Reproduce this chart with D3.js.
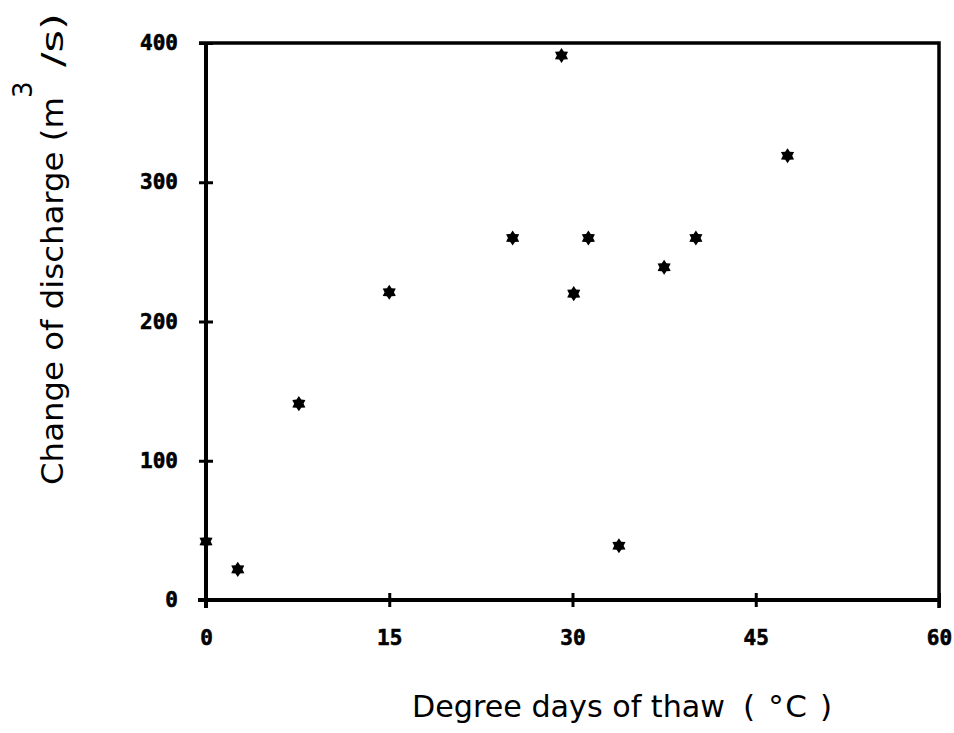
<!DOCTYPE html>
<html>
<head>
<meta charset="utf-8">
<script src="https://cdn.jsdelivr.net/npm/d3@7"></script>
<style>
  body { margin: 0; background: #fff; }
  svg { display: block; }
</style>
</head>
<body>
<svg id="chart" width="954" height="733"></svg>
<script>
// values
var thawDays = [0, 2.6, 7.6, 15, 25.1, 29.1, 30.1, 31.3, 33.8, 37.5, 40.1, 47.6]
var discharge = [42, 22, 141, 221, 260, 391, 220, 260, 39, 239, 260, 319]
var xTicks = [0, 15, 30, 45, 60]
var yTicks = [0, 100, 200, 300, 400]

var width = 954, height = 733;
var margin = {top: 43, right: 15, bottom: 133, left: 206};

const svg = d3.select("#chart");

const x = d3.scaleLinear()
  .domain([0, 60])
  .range([margin.left, width - margin.right]);

const y = d3.scaleLinear()
  .domain([0, 400])
  .range([height - margin.bottom, margin.top]);

// frame: top and right borders
svg.append("path")
  .attr("d", `M${x(0) - 7},${y(400)} H${x(60)} V${y(0) + 8}`)
  .attr("fill", "none")
  .attr("stroke", "black")
  .attr("stroke-width", 3.5);

// left axis, ticks cross the line
const yAxis = svg.append("g")
  .attr("transform", `translate(${x(0)},0)`)
  .call(d3.axisLeft(y).tickValues(yTicks).tickSize(7).tickPadding(21).tickFormat(d3.format("d")));
yAxis.select(".domain").attr("stroke-width", 4).attr("d", `M0,${y(400)}V${y(0) + 8}`);
yAxis.selectAll(".tick line").attr("x1", 7).attr("stroke-width", 3);

// bottom axis
const xAxis = svg.append("g")
  .attr("transform", `translate(0,${y(0)})`)
  .call(d3.axisBottom(x).tickValues(xTicks).tickSize(7).tickPadding(23).tickFormat(d3.format("d")));
xAxis.select(".domain").attr("stroke-width", 4).attr("d", `M${x(0) - 8},0H${x(60)}`);
xAxis.selectAll(".tick line").attr("y1", -7).attr("stroke-width", 3);

svg.selectAll(".tick text")
  .attr("font-family", "'DejaVu Sans Mono', monospace")
  .attr("font-weight", "bold")
  .attr("font-size", 21)
  .attr("stroke", "black")
  .attr("stroke-width", 0.6)
  .attr("fill", "black");

// six pointed star, like the plotter asterisk
const star6 = {
  draw(context, size) {
    const R = Math.sqrt(size) * 0.58, r = R * 0.62;
    for (let i = 0; i < 12; i++) {
      const a = -Math.PI / 2 + i * Math.PI / 6;
      const rad = i % 2 === 0 ? R : r;
      if (i === 0) context.moveTo(rad * Math.cos(a), rad * Math.sin(a));
      else context.lineTo(rad * Math.cos(a), rad * Math.sin(a));
    }
    context.closePath();
  }
};

svg.selectAll(".pt")
  .data(thawDays.map((d, i) => [d, discharge[i]]))
  .join("path")
  .attr("class", "pt")
  .attr("d", d3.symbol().type(star6).size(170))
  .attr("transform", d => `translate(${x(d[0])},${y(d[1])})`)
  .attr("fill", "black");

// x title
svg.append("text")
  .attr("x", 412).attr("y", 717)
  .attr("font-family", "'DejaVu Sans', sans-serif")
  .attr("font-size", 31)
  .attr("textLength", 313)
  .attr("lengthAdjust", "spacingAndGlyphs")
  .text("Degree days of thaw");
svg.append("text")
  .attr("x", 743).attr("y", 717)
  .attr("font-family", "'DejaVu Sans', sans-serif")
  .attr("font-size", 31)
  .attr("textLength", 89)
  .attr("lengthAdjust", "spacing")
  .style("white-space", "pre")
  .text("( °C )");

// y title, rotated
const yt = svg.append("g")
  .attr("transform", "translate(63,0) rotate(-90)")
  .attr("font-family", "'DejaVu Sans', sans-serif");
yt.append("text")
  .attr("x", -485).attr("y", 0)
  .attr("font-size", 31)
  .attr("textLength", 388)
  .attr("lengthAdjust", "spacingAndGlyphs")
  .text("Change of discharge (m");
yt.append("text")
  .attr("x", -98).attr("y", -31)
  .attr("font-size", 26)
  .text("3");
yt.append("text")
  .attr("x", -67).attr("y", 0)
  .attr("font-size", 31)
  .attr("textLength", 54)
  .attr("lengthAdjust", "spacingAndGlyphs")
  .text("/s)");
</script>
</body>
</html>
